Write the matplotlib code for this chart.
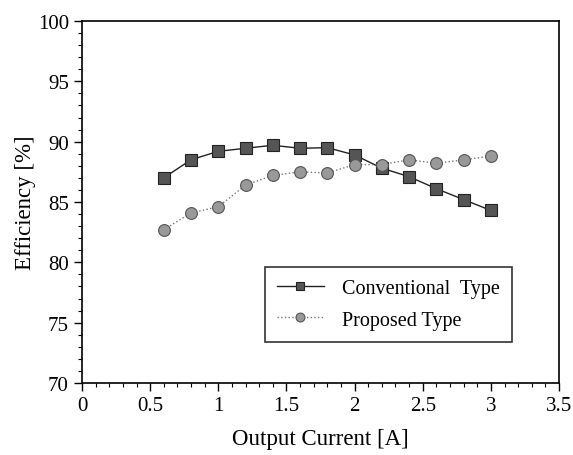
import matplotlib
matplotlib.use("Agg")
import matplotlib.pyplot as plt
from matplotlib.ticker import MultipleLocator

plt.rcParams['font.family'] = ['Liberation Serif', 'DejaVu Serif']

# output current [A]
current = [0.6, 0.8, 1.0, 1.2, 1.4, 1.6, 1.8, 2.0, 2.2, 2.4, 2.6, 2.8, 3.0]
# efficiency [%]
conventional = [87.0, 88.5, 89.2, 89.45, 89.7, 89.45, 89.5, 88.9, 87.8, 87.1, 86.1, 85.2, 84.3]
proposed = [82.7, 84.1, 84.6, 86.4, 87.2, 87.5, 87.4, 88.1, 88.1, 88.5, 88.2, 88.5, 88.8]
xtick_labels = ['0', '0.5', '1', '1.5', '2', '2.5', '3', '3.5']

fig = plt.figure(figsize=(5.73, 4.56), dpi=100)
ax = fig.add_axes([0.1431, 0.1579, 0.8325, 0.7939])

ax.plot(current, conventional, color='#222222', lw=1.0, ls='-',
        marker='s', ms=8.5, mfc='#555555', mec='#222222', mew=0.8,
        label='Conventional  Type')
ax.plot(current, proposed, color='#777777', lw=1.0, ls=':',
        marker='o', ms=8.5, mfc='#999999', mec='#555555', mew=0.8,
        label='Proposed Type')

ax.set_xlim(0, 3.5)
ax.set_ylim(70, 100)
ax.set_xticks([0, 0.5, 1, 1.5, 2, 2.5, 3, 3.5])
ax.set_xticklabels(xtick_labels)
ax.xaxis.set_minor_locator(MultipleLocator(0.1))
ax.yaxis.set_major_locator(MultipleLocator(5))
ax.yaxis.set_minor_locator(MultipleLocator(1))
ax.tick_params(which='major', direction='out', length=6, width=1, labelsize=15)
ax.tick_params(which='minor', direction='out', length=3, width=0.8)

for s in ax.spines.values():
    s.set_linewidth(1.2)

ax.set_xlabel('Output Current [A]', fontsize=16.5, labelpad=9)
ax.set_ylabel('Efficiency [%]', fontsize=16.5, labelpad=1)

leg = ax.legend(loc='upper left', bbox_to_anchor=(0.384, 0.32), fontsize=14.5,
                frameon=True, fancybox=False, edgecolor='black',
                handlelength=2.3, handletextpad=0.9, borderpad=0.6,
                labelspacing=0.6, borderaxespad=0, markerscale=0.75)
leg.get_frame().set_linewidth(1.2)

fig.savefig('out.png', dpi=100)
